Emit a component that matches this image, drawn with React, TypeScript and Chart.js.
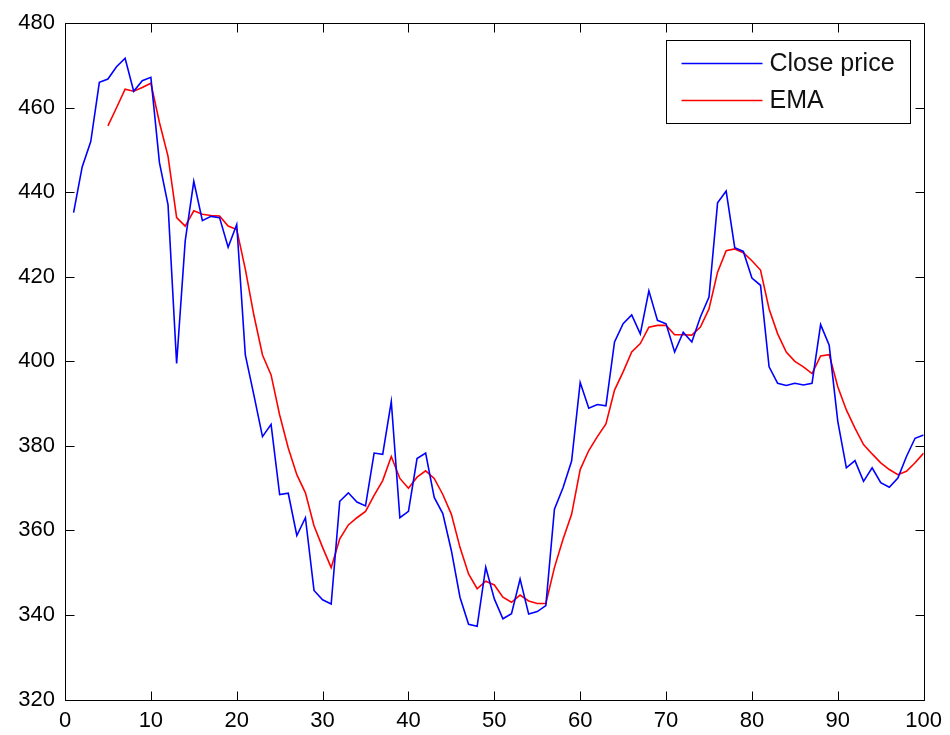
import { useEffect, useRef } from "react";
import { Chart, registerables } from "chart.js";

Chart.register(...registerables);

// Daily close prices, sessions 1..100
const closePrice = [
  435.2, 446.0, 452.0, 466.0, 466.8, 469.7, 471.7, 463.9, 466.4, 467.2,
  447.0, 437.0, 399.5, 428.5, 442.6, 433.3, 434.3, 434.0, 427.0, 432.4,
  401.5, 392.0, 382.2, 385.1, 368.5, 368.8, 358.8, 363.0, 345.8, 343.6,
  342.6, 366.9, 368.9, 366.7, 365.8, 378.3, 378.0, 390.5, 363.0, 364.5,
  377.0, 378.3, 367.8, 364.0, 355.2, 344.2, 337.8, 337.3, 351.3, 343.8,
  339.1, 340.3, 348.5, 340.2, 340.8, 342.2, 365.0, 370.1, 376.4, 395.0,
  388.9, 389.8, 389.5, 404.6, 408.9, 411.0, 406.5, 416.7, 409.7, 408.9,
  402.2, 406.9, 404.6, 410.5, 415.2, 437.5, 440.3, 426.9, 426.0, 419.7,
  418.0, 398.7, 394.8, 394.3, 394.8, 394.4, 394.8, 408.7, 403.8, 385.8,
  374.8, 376.5, 371.6, 374.8, 371.3, 370.2, 372.4, 377.5, 381.8, 382.6,
];

// Exponential moving average, first value at session 5
const emaStart = 5;
const emaValues = [
  455.7, 460.0, 464.4, 463.9, 464.8, 465.8,
  456.5, 448.5, 434.0, 432.0, 435.6, 434.8, 434.5, 434.4, 432.0, 431.2,
  421.8, 410.9, 401.5, 396.8, 387.3, 379.5, 373.2, 368.9, 361.1, 356.0,
  351.2, 358.0, 361.3, 363.0, 364.5, 368.3, 371.8, 377.5, 372.3, 370.0,
  372.6, 374.1, 372.3, 368.5, 363.8, 356.0, 349.7, 346.2, 348.0, 347.1,
  344.2, 343.0, 344.7, 343.3, 342.7, 342.7, 351.2, 357.9, 363.8, 374.4,
  378.9, 382.2, 385.2, 393.2, 397.5, 402.2, 404.2, 408.1, 408.5, 408.5,
  406.3, 406.3, 406.2, 408.1, 412.4, 421.1, 426.2, 426.6, 425.7, 423.8,
  421.6, 412.4, 406.5, 402.2, 400.0, 398.7, 397.1, 401.3, 401.6, 394.0,
  388.5, 384.2, 380.3, 378.1, 376.0, 374.4, 373.2, 374.0, 376.0, 378.3,
];

const seriesLabels = ["Close price", "EMA"];
const seriesColors = ["#0000ff", "#ff0000"];

const xTicks = [0, 10, 20, 30, 40, 50, 60, 70, 80, 90, 100];
const yTicks = [320, 340, 360, 380, 400, 420, 440, 460, 480];

const FONT = "'Liberation Sans', Arial, sans-serif";
const TICK_LEN = 9;

// Axes box with inward tick marks on all four sides
const framePlugin = {
  id: "axesFrame",
  afterDatasetsDraw(chart: any) {
    const { ctx, chartArea: a, scales } = chart;
    const l = Math.round(a.left) + 0.5;
    const r = Math.round(a.right) + 0.5;
    const t = Math.round(a.top) + 0.5;
    const b = Math.round(a.bottom) + 0.5;
    ctx.save();
    ctx.strokeStyle = "#000";
    ctx.lineWidth = 1;
    ctx.beginPath();
    ctx.rect(l, t, r - l, b - t);
    for (const v of xTicks) {
      const px = Math.round(scales.x.getPixelForValue(v)) + 0.5;
      ctx.moveTo(px, b);
      ctx.lineTo(px, b - TICK_LEN);
      ctx.moveTo(px, t);
      ctx.lineTo(px, t + TICK_LEN);
    }
    for (const v of yTicks) {
      const py = Math.round(scales.y.getPixelForValue(v)) + 0.5;
      ctx.moveTo(l, py);
      ctx.lineTo(l + TICK_LEN, py);
      ctx.moveTo(r, py);
      ctx.lineTo(r - TICK_LEN, py);
    }
    ctx.stroke();
    ctx.restore();
  },
};

// Boxed legend in the upper-right corner of the axes
const legendBoxPlugin = {
  id: "legendBox",
  afterDraw(chart: any) {
    const { ctx, chartArea: a } = chart;
    const boxL = Math.round(a.right - 258) + 0.5;
    const boxR = Math.round(a.right - 14) + 0.5;
    const boxT = Math.round(a.top + 17) + 0.5;
    const boxB = Math.round(a.top + 100) + 0.5;
    ctx.save();
    ctx.fillStyle = "#fff";
    ctx.fillRect(boxL, boxT, boxR - boxL, boxB - boxT);
    ctx.strokeStyle = "#000";
    ctx.lineWidth = 1;
    ctx.strokeRect(boxL, boxT, boxR - boxL, boxB - boxT);
    ctx.font = `25px ${FONT}`;
    ctx.textBaseline = "middle";
    ctx.textAlign = "left";
    chart.data.datasets.forEach((ds: any, i: number) => {
      const y = boxT + 23 + i * 37;
      ctx.strokeStyle = ds.borderColor;
      ctx.lineWidth = 1.6;
      ctx.beginPath();
      ctx.moveTo(boxL + 15, y);
      ctx.lineTo(boxL + 96, y);
      ctx.stroke();
      ctx.fillStyle = "#111";
      ctx.fillText(ds.label, boxL + 103, y + 1);
    });
    ctx.restore();
  },
};

export default function App() {
  const canvasRef = useRef<HTMLCanvasElement | null>(null);

  useEffect(() => {
    const canvas = canvasRef.current;
    if (!canvas) return;

    const closePoints = closePrice.map((v, i) => ({ x: i + 1, y: v }));
    const emaPoints = emaValues.map((v, i) => ({ x: emaStart + i, y: v }));

    const chart = new Chart(canvas, {
      type: "line",
      data: {
        datasets: [
          {
            label: seriesLabels[0],
            data: closePoints,
            borderColor: seriesColors[0],
            borderWidth: 1.6,
            pointRadius: 0,
            tension: 0,
            fill: false,
          },
          {
            label: seriesLabels[1],
            data: emaPoints,
            borderColor: seriesColors[1],
            borderWidth: 1.6,
            pointRadius: 0,
            tension: 0,
            fill: false,
          },
        ],
      },
      options: {
        responsive: false,
        animation: false,
        events: [],
        layout: { padding: { top: 19.5, right: 25, left: 0, bottom: 0 } },
        plugins: {
          legend: { display: false },
          tooltip: { enabled: false },
        },
        scales: {
          x: {
            type: "linear",
            min: 0,
            max: 100,
            afterBuildTicks: (scale: any) => {
              scale.ticks = xTicks.map((v) => ({ value: v }));
            },
            afterFit: (scale: any) => {
              scale.height = 35.5;
            },
            grid: { display: false, drawTicks: false },
            border: { display: false },
            ticks: {
              padding: 8,
              color: "#000",
              font: { family: FONT, size: 22 },
              maxRotation: 0,
              autoSkip: false,
            },
          },
          y: {
            type: "linear",
            min: 320,
            max: 480,
            afterBuildTicks: (scale: any) => {
              scale.ticks = yTicks.map((v) => ({ value: v }));
            },
            afterFit: (scale: any) => {
              scale.width = 65;
            },
            grid: { display: false, drawTicks: false },
            border: { display: false },
            ticks: {
              padding: 10,
              color: "#000",
              font: { family: FONT, size: 22 },
              autoSkip: false,
            },
          },
        },
      },
      plugins: [framePlugin, legendBoxPlugin],
    });

    return () => chart.destroy();
  }, []);

  return (
    <div style={{ position: "absolute", left: 0, top: 0, width: 950, height: 735, background: "#fff" }}>
      <canvas ref={canvasRef} width={950} height={735} style={{ display: "block" }} />
    </div>
  );
}
